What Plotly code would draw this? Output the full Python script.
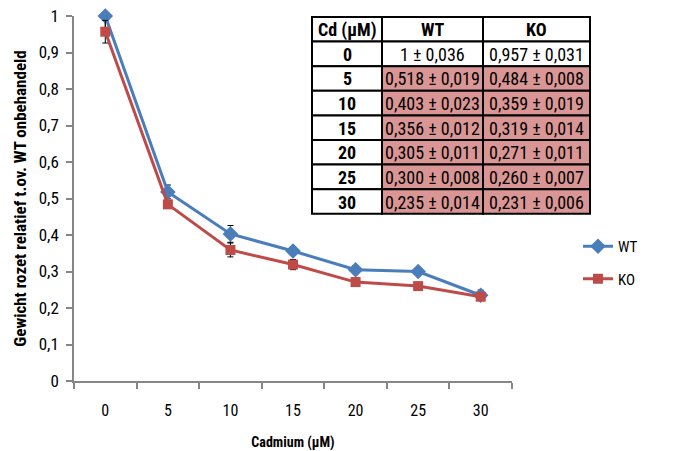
import plotly.graph_objects as go

cd = ["0", "5", "10", "15", "20", "25", "30"]
wt = [1.0, 0.518, 0.403, 0.356, 0.305, 0.300, 0.235]
wt_err = [0.036, 0.019, 0.023, 0.012, 0.011, 0.008, 0.014]
ko = [0.957, 0.484, 0.359, 0.319, 0.271, 0.260, 0.231]
ko_err = [0.031, 0.008, 0.019, 0.014, 0.011, 0.007, 0.006]
wt_txt = ["1 ± 0,036", "0,518 ± 0,019", "0,403 ± 0,023", "0,356 ± 0,012",
          "0,305 ± 0,011", "0,300 ± 0,008", "0,235 ± 0,014"]
ko_txt = ["0,957 ± 0,031", "0,484 ± 0,008", "0,359 ± 0,019", "0,319 ± 0,014",
          "0,271 ± 0,011", "0,260 ± 0,007", "0,231 ± 0,006"]
header_txt = ["Cd (µM)", "WT", "KO"]
y_ticks = [0, 0.1, 0.2, 0.3, 0.4, 0.5, 0.6, 0.7, 0.8, 0.9, 1.0]

FONT = "Liberation Sans Narrow, Arial Narrow, Roboto Condensed, sans-serif"
BLUE = "#4A7EBB"
RED = "#BE4B48"
PINK = "#D99694"
AX = "#868686"

W, H = 673, 451
L, R, T, B = 74, 83, 16, 70
pw = W - L - R
ph = H - T - B


def px_x(x):
    return (x - L) / pw


def px_y(y):
    return (H - B - y) / ph


fig = go.Figure()
fig.add_trace(go.Scatter(
    x=cd, y=wt, name="WT", mode="lines+markers", legendgroup="a",
    line=dict(color=BLUE, width=3),
    marker=dict(symbol="diamond", size=12, color=BLUE),
    error_y=dict(type="data", array=wt_err, color="black", thickness=1, width=3),
    cliponaxis=False))
fig.add_trace(go.Scatter(
    x=cd, y=ko, name="KO", mode="lines+markers", legendgroup="b",
    line=dict(color=RED, width=3),
    marker=dict(symbol="square", size=10, color=RED),
    error_y=dict(type="data", array=ko_err, color="black", thickness=1, width=3),
    cliponaxis=False))

# Table drawn as shapes + annotations (pixel layout of the table block)
col_edges = [312, 382, 483, 590]
top = 17
row_h = 24.6
rows = [header_txt] + [[c, w, k] for c, w, k in zip(cd, wt_txt, ko_txt)]
shapes = []
annotations = []
for r, row in enumerate(rows):
    y0 = top + r * row_h
    y1 = y0 + row_h
    for c, txt in enumerate(row):
        x0, x1 = col_edges[c], col_edges[c + 1]
        fill = PINK if (r >= 2 and c >= 1) else "white"
        shapes.append(dict(type="rect", xref="paper", yref="paper",
                           x0=px_x(x0), x1=px_x(x1), y0=px_y(y1), y1=px_y(y0),
                           fillcolor=fill, line=dict(color="black", width=2),
                           layer="above"))
        bold = (r == 0 or c == 0)
        annotations.append(dict(xref="paper", yref="paper",
                                x=px_x((x0 + x1) / 2), y=px_y((y0 + y1) / 2 + 0.5),
                                xanchor="center", yanchor="middle", showarrow=False,
                                text=("<b>%s</b>" % txt) if bold else txt,
                                font=dict(family=FONT, size=18, color="black")))

fig.update_layout(
    width=W, height=H,
    margin=dict(l=L, r=R, t=T, b=B, autoexpand=False),
    paper_bgcolor="white", plot_bgcolor="white",
    separators=",.",
    font=dict(family=FONT, size=15, color="black"),
    showlegend=True,
    shapes=shapes, annotations=annotations,
    legend=dict(x=px_x(578), y=px_y(230), xanchor="left", yanchor="top",
                bgcolor="rgba(0,0,0,0)", tracegroupgap=10,
                font=dict(family=FONT, size=15, color="black")),
    xaxis=dict(domain=[0, px_x(512)], type="category", range=[-0.5, 6.5],
               automargin=False,
               showline=True, linecolor=AX, linewidth=1.5,
               ticks="outside", tickson="boundaries", ticklen=6, tickcolor=AX, tickwidth=1.5,
               showgrid=False, zeroline=False, ticklabelstandoff=14,
               tickfont=dict(family=FONT, size=16, color="black"),
               title=dict(text="<b>Cadmium (µM)</b>", standoff=18,
                          font=dict(family=FONT, size=14, color="black"))),
    yaxis=dict(range=[0, 1], tickvals=y_ticks, tickformat=".1~f",
               automargin=False,
               showline=True, linecolor=AX, linewidth=1.5,
               ticks="outside", ticklen=6, tickcolor=AX, tickwidth=1.5,
               showgrid=False, zeroline=False, ticklabelstandoff=4,
               tickfont=dict(family=FONT, size=17, color="black"),
               title=dict(text="<b>Gewicht rozet relatief t.ov. WT onbehandeld</b>", standoff=8,
                          font=dict(family=FONT, size=17, color="black"))),
)

fig.write_html("out.html")
